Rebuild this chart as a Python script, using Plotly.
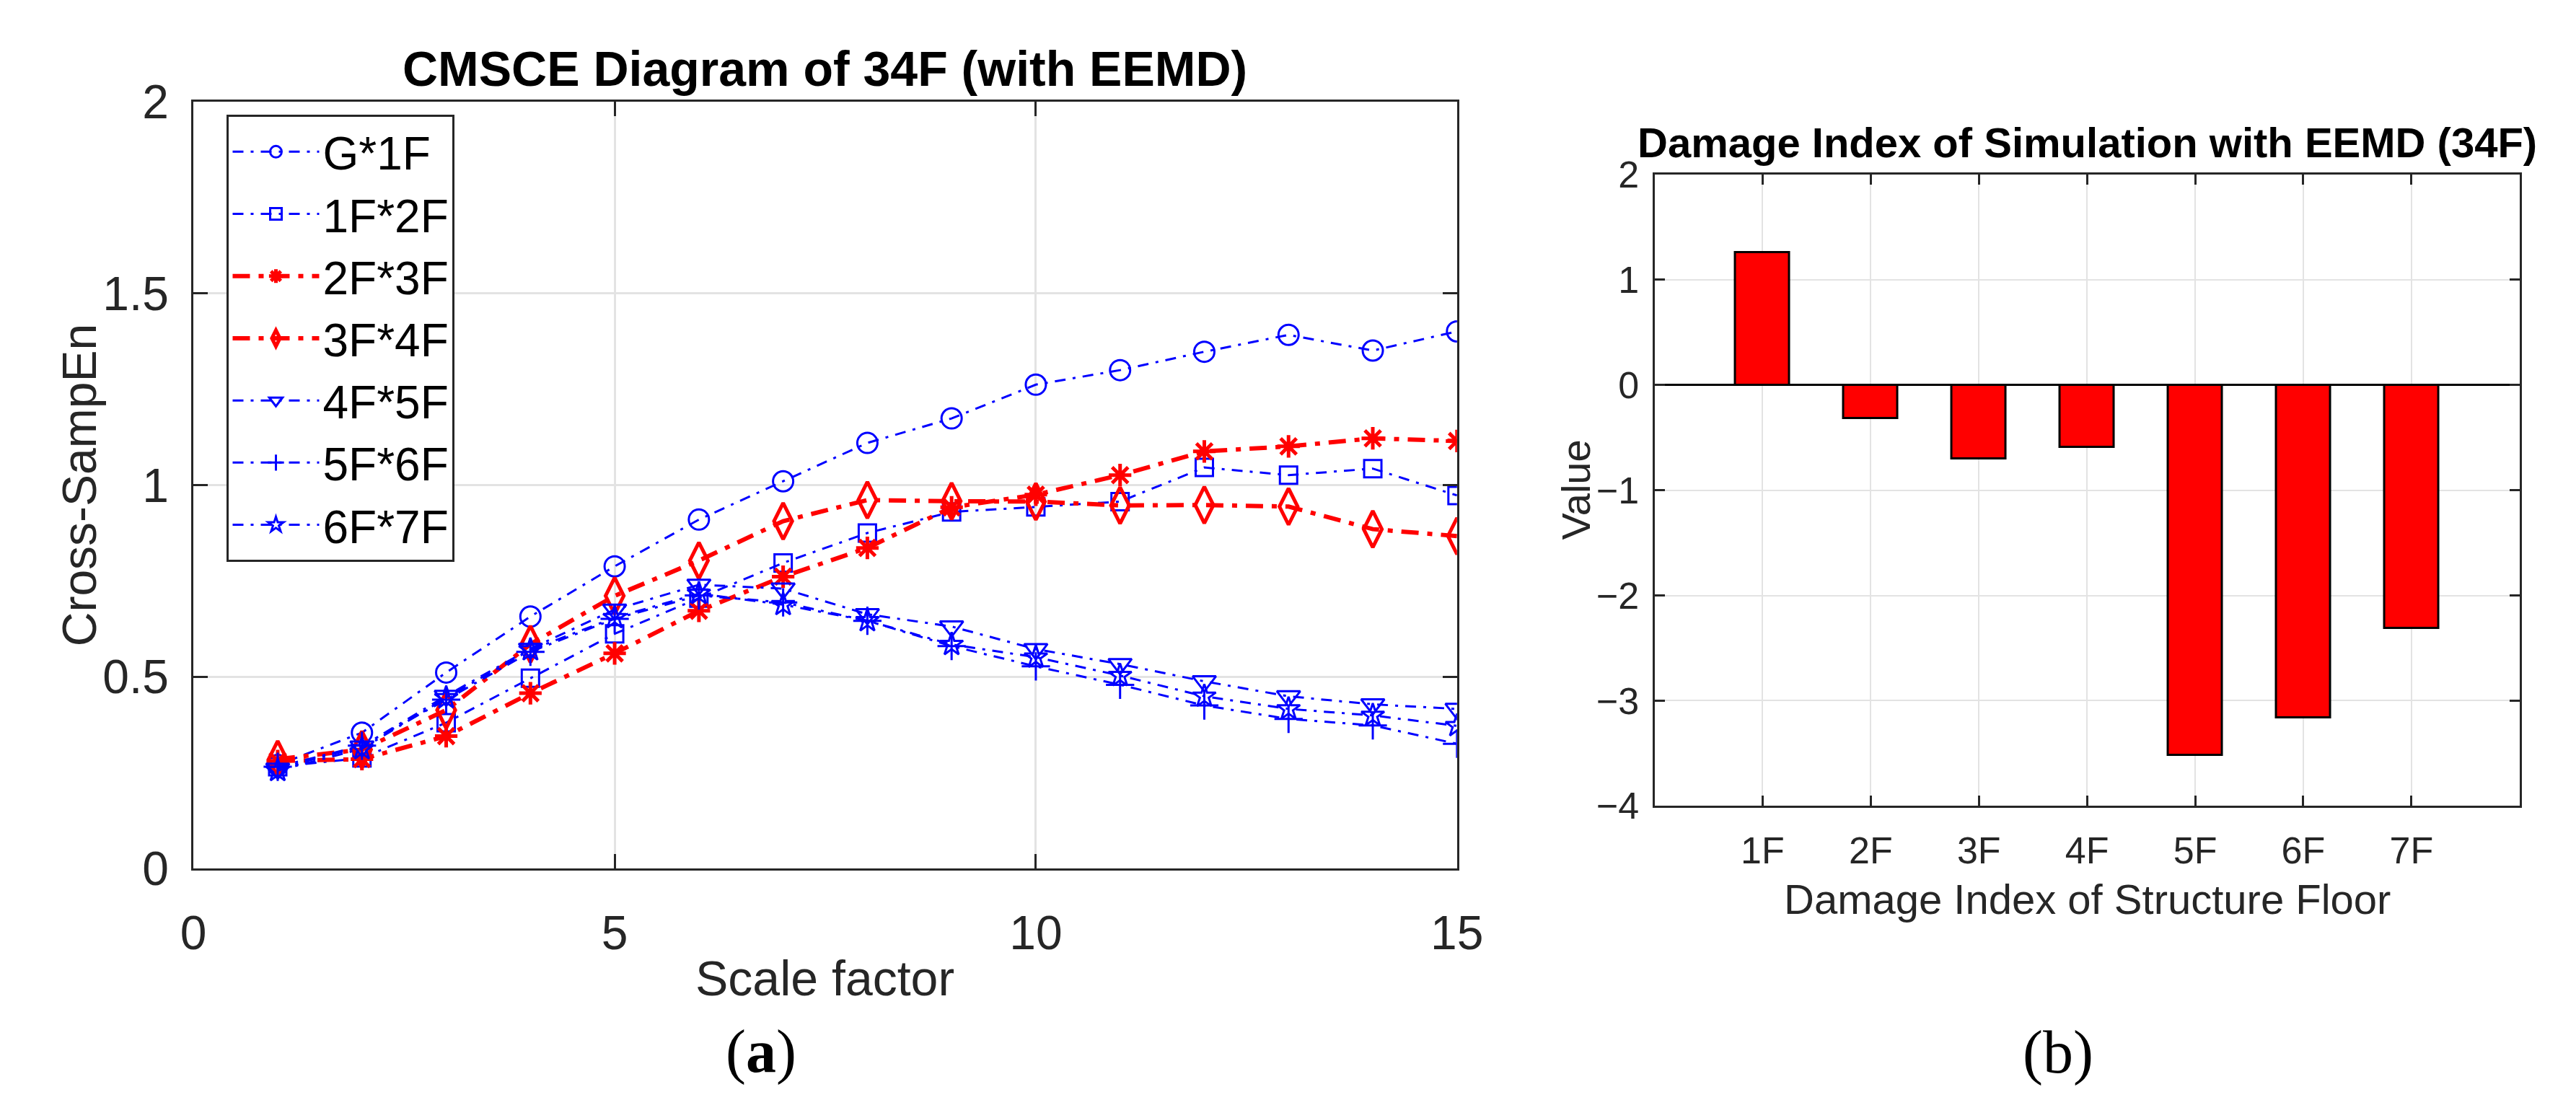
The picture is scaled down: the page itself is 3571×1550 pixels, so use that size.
import plotly.graph_objects as go

# ---------------- data ----------------
scale_factor = list(range(1, 16))
series_names = ["G*1F", "1F*2F", "2F*3F", "3F*4F", "4F*5F", "5F*6F", "6F*7F"]
g_1f  = [0.270, 0.354, 0.511, 0.657, 0.788, 0.910, 1.010, 1.110, 1.174, 1.262, 1.300, 1.348, 1.392, 1.351, 1.401]
f1_2f = [0.265, 0.288, 0.380, 0.496, 0.612, 0.705, 0.797, 0.875, 0.930, 0.943, 0.957, 1.046, 1.026, 1.043, 0.973]
f2_3f = [0.280, 0.285, 0.345, 0.457, 0.561, 0.672, 0.761, 0.836, 0.942, 0.975, 1.026, 1.088, 1.101, 1.122, 1.115]
f3_4f = [0.285, 0.310, 0.413, 0.585, 0.711, 0.803, 0.906, 0.961, 0.958, 0.957, 0.947, 0.948, 0.944, 0.885, 0.867]
f4_5f = [0.260, 0.318, 0.450, 0.573, 0.675, 0.740, 0.730, 0.663, 0.631, 0.572, 0.533, 0.488, 0.449, 0.428, 0.416]
f5_6f = [0.265, 0.320, 0.440, 0.565, 0.651, 0.712, 0.694, 0.646, 0.580, 0.527, 0.479, 0.425, 0.390, 0.373, 0.325]
f6_7f = [0.255, 0.312, 0.445, 0.570, 0.654, 0.717, 0.688, 0.646, 0.584, 0.551, 0.503, 0.449, 0.416, 0.399, 0.372]
series_values = [g_1f, f1_2f, f2_3f, f3_4f, f4_5f, f5_6f, f6_7f]

floors = ["1F", "2F", "3F", "4F", "5F", "6F", "7F"]
damage_index = [1.26, -0.32, -0.70, -0.59, -3.52, -3.16, -2.31]

x_ticks_left = [0, 5, 10, 15]
y_ticks_left = [0, 0.5, 1, 1.5, 2]
y_ticks_right = [-4, -3, -2, -1, 0, 1, 2]

# ---------------- styles ----------------
BLUE = "rgb(0,0,255)"
RED = "rgb(255,0,0)"
styles = [
    dict(color=BLUE, symbol="circle-open", size=28, lw=3, mlw=3, dash="15px,10px,4px,10px"),
    dict(color=BLUE, symbol="square-open", size=24, lw=3, mlw=3, dash="15px,10px,4px,10px"),
    dict(color=RED, symbol="asterisk-open", size=26, lw=6, mlw=5, dash="24px,12px,7px,12px"),
    dict(color=RED, symbol="diamond-tall-open", size=36, lw=6, mlw=5, dash="24px,12px,7px,12px"),
    dict(color=BLUE, symbol="triangle-down-open", size=28, lw=3, mlw=3, dash="15px,10px,4px,10px"),
    dict(color=BLUE, symbol="cross-thin-open", size=28, lw=3, mlw=3, dash="15px,10px,4px,10px"),
    dict(color=BLUE, symbol="star-open", size=24, lw=3, mlw=3, dash="15px,10px,4px,10px"),
]

AX = "#262626"
GRID = "#e3e3e3"
FONT = "Liberation Sans, Arial, sans-serif"
SERIF = "Liberation Serif, Times New Roman, serif"

fig = go.Figure()

for name, vals, st in zip(series_names, series_values, styles):
    fig.add_trace(go.Scatter(
        x=scale_factor, y=vals, name=name, mode="lines+markers",
        line=dict(color=st["color"], width=st["lw"], dash=st["dash"]),
        marker=dict(symbol=st["symbol"], size=st["size"], color=st["color"],
                    line=dict(color=st["color"], width=st["mlw"])),
        xaxis="x", yaxis="y", showlegend=True,
    ))

fig.add_trace(go.Bar(
    x=floors, y=damage_index, width=0.5,
    marker=dict(color=RED, line=dict(color="black", width=3)),
    xaxis="x2", yaxis="y2", showlegend=False,
))

W, H = 3571, 1550
def px(v): return v / W
def py(v): return 1 - v / H

fig.update_layout(
    width=W, height=H,
    margin=dict(l=0, r=0, t=0, b=0),
    paper_bgcolor="white", plot_bgcolor="white",
    font=dict(family=FONT, color=AX),
    xaxis=dict(
        domain=[px(246), px(2025)], anchor="y", range=[0, 15],
        tickvals=x_ticks_left, ticks="inside", ticklen=20, tickwidth=3, tickcolor=AX,
        showline=True, linecolor=AX, linewidth=3, mirror="ticks",
        showgrid=True, gridcolor=GRID, gridwidth=3, zeroline=False,
        tickfont=dict(size=66, color=AX, family=FONT), ticklabelstandoff=30,
    ),
    yaxis=dict(
        domain=[py(1217), py(101)], anchor="x", range=[0, 2],
        tickvals=y_ticks_left, ticktext=["0", "0.5", "1", "1.5", "2"],
        ticks="inside", ticklen=20, tickwidth=3, tickcolor=AX,
        showline=True, linecolor=AX, linewidth=3, mirror="ticks",
        showgrid=True, gridcolor=GRID, gridwidth=3, zeroline=False,
        tickfont=dict(size=66, color=AX, family=FONT), ticklabelstandoff=18,
    ),
    xaxis2=dict(
        domain=[px(2303), px(3521)], anchor="y2", type="category",
        categoryorder="array", categoryarray=floors, range=[-1, 7],
        ticks="inside", ticklen=14, tickwidth=3, tickcolor=AX,
        showline=True, linecolor=AX, linewidth=3, mirror="ticks",
        showgrid=True, gridcolor=GRID, gridwidth=2, zeroline=False,
        tickfont=dict(size=52, color=AX, family=FONT), ticklabelstandoff=14,
    ),
    yaxis2=dict(
        domain=[py(1126), py(207)], anchor="x2", range=[-4, 2],
        tickvals=y_ticks_right, ticks="inside", ticklen=14, tickwidth=3, tickcolor=AX,
        showline=True, linecolor=AX, linewidth=3, mirror="ticks",
        showgrid=True, gridcolor=GRID, gridwidth=2,
        zeroline=True, zerolinecolor="black", zerolinewidth=3,
        tickfont=dict(size=52, color=AX, family=FONT), ticklabelstandoff=8,
    ),
    legend=dict(
        x=px(293), y=py(120), xanchor="left", yanchor="top",
        bgcolor="white", bordercolor=AX, borderwidth=3,
        font=dict(size=64, color="black", family=FONT),
        itemwidth=120, tracegroupgap=0,
    ),
    bargap=0,
)

annotations = [
    dict(text="<b>CMSCE Diagram of 34F (with EEMD)</b>", x=px(1135), y=py(52),
         font=dict(size=68, color="black", family=FONT)),
    dict(text="Scale factor", x=px(1135), y=py(1377),
         font=dict(size=68, color=AX, family=FONT)),
    dict(text="Cross-SampEn", x=px(85), y=py(659), textangle=-90,
         font=dict(size=66, color=AX, family=FONT)),
    dict(text="<b>Damage Index of Simulation with EEMD (34F)</b>", x=px(2912), y=py(160),
         font=dict(size=58, color="black", family=FONT)),
    dict(text="Damage Index of Structure Floor", x=px(2912), y=py(1262),
         font=dict(size=58, color=AX, family=FONT)),
    dict(text="Value", x=px(2192), y=py(666), textangle=-90,
         font=dict(size=56, color=AX, family=FONT)),
    dict(text="(<b>a</b>)", x=px(1045), y=py(1484),
         font=dict(size=84, color="black", family=SERIF)),
    dict(text="(b)", x=px(2871), y=py(1485),
         font=dict(size=84, color="black", family=SERIF)),
]
for a in annotations:
    a.update(xref="paper", yref="paper", showarrow=False, xanchor="center", yanchor="middle")
fig.update_layout(annotations=annotations)

fig.write_html("out.html")
